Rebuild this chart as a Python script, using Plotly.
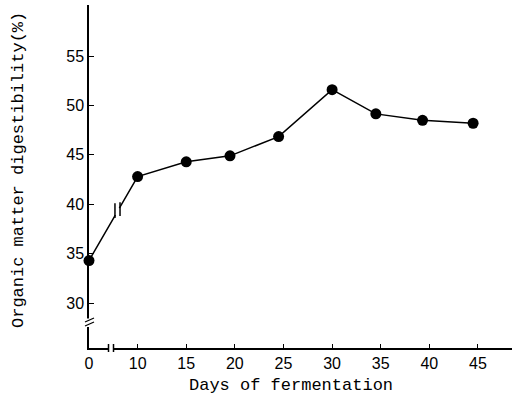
import plotly.graph_objects as go

# ---- data ----
days = [0, 10, 15, 19.5, 24.5, 30, 34.5, 39.3, 44.5]
digestibility = [34.3, 42.8, 44.3, 44.9, 46.85, 51.6, 49.15, 48.5, 48.2]
x_tick_labels = ["0", "10", "15", "20", "25", "30", "35", "40", "45"]
y_ticks = [30, 35, 40, 45, 50, 55]

# broken x axis: day 0 is drawn at the position of 5
def xpos(d):
    return d + 5 if d < 10 else d

x_positions = [xpos(d) for d in days]
x_tick_vals = [xpos(int(t)) for t in x_tick_labels]

XR = [5, 48.5]
YR = [25.45, 60.17]
L, R, T, B = 89, 0, 5, 56
W, H = 512, 404
PW, PH = W - L - R, H - T - B

def px(x):  # pixel x -> paper
    return (x - L) / PW

def py(y):  # pixel y -> paper
    return (H - B - y) / PH

fig = go.Figure()
fig.add_trace(go.Scatter(
    x=x_positions, y=digestibility, mode="lines+markers",
    line=dict(color="black", width=1.5),
    marker=dict(color="black", size=11),
    cliponaxis=False, showlegend=False,
))

shapes = []
# break on the data line
shapes.append(dict(type="line", xref="x", yref="y", x0=7.72, x1=8.14, y0=38.9, y1=39.6,
                   line=dict(color="white", width=4)))
for xb, y0, y1 in [(7.67, 38.6, 40.1), (8.19, 38.8, 40.2)]:
    shapes.append(dict(type="line", xref="x", yref="y", x0=xb, x1=xb, y0=y0, y1=y1,
                       line=dict(color="black", width=1.5)))
# break on the y axis
shapes.append(dict(type="rect", xref="paper", yref="paper", x0=px(86), x1=px(92),
                   y0=py(327), y1=py(318.5), fillcolor="white", line=dict(width=0)))
for y_off in [0, 4]:
    shapes.append(dict(type="line", xref="paper", yref="paper", x0=px(85), x1=px(94),
                       y0=py(322 + y_off), y1=py(318 + y_off),
                       line=dict(color="black", width=1.3)))
# break on the x axis
shapes.append(dict(type="rect", xref="paper", yref="paper", x0=px(109), x1=px(113),
                   y0=py(351), y1=py(345), fillcolor="white", line=dict(width=0)))
for xb in [108.5, 113.5]:
    shapes.append(dict(type="line", xref="paper", yref="paper", x0=px(xb), x1=px(xb),
                       y0=py(352), y1=py(344), line=dict(color="black", width=1.5)))

annotations = [
    dict(text="Days of fermentation", xref="paper", yref="paper",
         x=px(291), y=py(385), showarrow=False, xanchor="center", yanchor="middle",
         font=dict(family="Liberation Mono", size=17, color="black")),
    dict(text="Organic matter digestibility(%)", xref="paper", yref="paper",
         x=px(18), y=py(170), showarrow=False, xanchor="center", yanchor="middle",
         textangle=-90,
         font=dict(family="Liberation Mono", size=17, color="black")),
]

fig.update_layout(
    width=W, height=H,
    margin=dict(l=L, r=R, t=T, b=B, autoexpand=False),
    paper_bgcolor="white", plot_bgcolor="white",
    shapes=shapes, annotations=annotations,
    xaxis=dict(range=XR, tickvals=x_tick_vals, ticktext=x_tick_labels,
               showgrid=False, zeroline=False, showline=True, linecolor="black",
               linewidth=1.5, ticks="inside", ticklen=4, tickcolor="black",
               tickfont=dict(family="Liberation Sans", size=16, color="black"),
               automargin=False, fixedrange=True),
    yaxis=dict(range=YR, tickvals=y_ticks, showgrid=False, zeroline=False,
               showline=True, linecolor="black", linewidth=1.5, ticks="inside",
               ticklen=5, tickcolor="black",
               tickfont=dict(family="Liberation Sans", size=16, color="black"),
               automargin=False, fixedrange=True),
)

fig.write_html(
    "out.html",
    config={"displayModeBar": False},
    post_script="document.body.style.margin='0';document.body.style.overflow='hidden';",
)
